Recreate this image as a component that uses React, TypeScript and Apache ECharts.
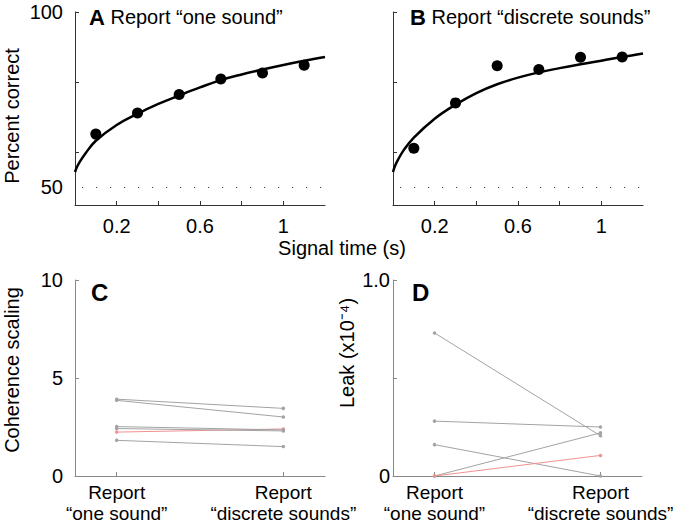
import React, { useEffect, useRef } from 'react';
import * as echarts from 'echarts';

const FONT = '"Liberation Sans", Arial, Helvetica, sans-serif';

// Panels A & B: percent correct vs signal time
const signalTimes = [0.1, 0.3, 0.5, 0.7, 0.9, 1.1];
const pctOneSound = [65.2, 71.2, 76.5, 80.9, 82.6, 84.8];
const pctDiscrete = [61.2, 74.1, 84.7, 83.6, 87.1, 87.2];

// fitted curves
const fitTimes = [0, 0.01, 0.025, 0.05, 0.1, 0.2, 0.3, 0.4, 0.5, 0.6, 0.7, 0.8, 0.9, 1.0, 1.1, 1.2];
const fitOneSound = [54.4, 55.9, 57.5, 59.7, 63.3, 67.8, 71.0, 73.8, 76.2, 78.5, 80.6, 82.2, 83.6, 84.9, 86.1, 87.2];
const fitDiscrete = [54.4, 56.2, 58.0, 60.5, 64.2, 69.6, 73.6, 76.9, 79.4, 81.3, 82.8, 84.0, 85.1, 86.1, 87.2, 88.2];
const chanceLevel = 50;

const timeTickLabels = [0.2, 0.6, 1];
const timeTicks = [0.2, 0.4, 0.6, 0.8, 1.0];
const pctTickLabels = [50, 100];
const pctTicks = [60, 80, 100];

// Panels C & D: two conditions
const conditionLine1 = ['Report', 'Report'];
const conditionLine2 = ['“one sound”', '“discrete sounds”'];
const conditionPos = [1, 2];

// Coherence scaling per subject [one sound, discrete sounds]
const cohS1 = [3.92, 3.45];
const cohS2 = [3.86, 3.01];
const cohS3 = [2.52, 2.35];
const cohS4 = [2.42, 2.3];
const cohS5 = [1.82, 1.5];
const cohMean = [2.24, 2.4];

// Leak (x10^-4) per subject
const leakS1 = [0.73, 0.205];
const leakS2 = [0.28, 0.25];
const leakS3 = [0.16, 0];
const leakS4 = [0, 0.22];
const leakMean = [0, 0.105];

const GRAY = '#a3a3a3';
const RED = '#f28f8f';
const FS = 20;

function pairSeries(values: number[], color: string, xi: number, z = 2) {
  return {
    type: 'line',
    xAxisIndex: xi,
    yAxisIndex: xi,
    data: conditionPos.map((p, i) => [p, values[i]]),
    symbol: 'circle',
    symbolSize: 3.5,
    itemStyle: { color },
    lineStyle: { color, width: 1 },
    z,
    silent: true,
  };
}

function timeXAxis(gridIndex: number) {
  return {
    type: 'value',
    gridIndex,
    min: 0,
    max: 1.2,
    axisLine: { lineStyle: { color: '#333', width: 1 } },
    axisTick: { inside: true, length: 4, customValues: timeTicks, lineStyle: { color: '#333' } },
    axisLabel: {
      customValues: timeTickLabels,
      formatter: (v: number) => String(Math.round(v * 10) / 10),
      color: '#000',
      fontSize: FS,
      fontFamily: FONT,
      margin: 11,
    },
    splitLine: { show: false },
  };
}

function pctYAxis(gridIndex: number, showLabels: boolean) {
  return {
    type: 'value',
    gridIndex,
    min: 45,
    max: 100,
    axisLine: { show: true, lineStyle: { color: '#333', width: 1 } },
    axisTick: { show: true, inside: true, length: 4, customValues: pctTicks, lineStyle: { color: '#333' } },
    axisLabel: {
      show: showLabels,
      customValues: pctTickLabels,
      color: '#000',
      fontSize: FS,
      fontFamily: FONT,
      margin: 12,
    },
    splitLine: { show: false },
  };
}

function condXAxis(gridIndex: number) {
  return {
    type: 'value',
    gridIndex,
    min: 0.75,
    max: 2.25,
    axisLine: { lineStyle: { color: '#888', width: 1 } },
    axisTick: { inside: true, length: 4, customValues: conditionPos, lineStyle: { color: '#888' } },
    axisLabel: {
      customValues: conditionPos,
      formatter: (v: number) => {
        const i = Math.round(v) - 1;
        return conditionLine1[i] + '\n' + conditionLine2[i];
      },
      color: '#000',
      fontSize: 19,
      lineHeight: 21,
      fontFamily: FONT,
      margin: 6,
    },
    splitLine: { show: false },
  };
}

export default function App() {
  const ref = useRef<HTMLDivElement>(null);
  useEffect(() => {
    document.body.style.margin = '0';
    const chart = echarts.init(ref.current!, null, { renderer: 'svg' });
    const scatterA = signalTimes.map((t, i) => [t, pctOneSound[i]]);
    const scatterB = signalTimes.map((t, i) => [t, pctDiscrete[i]]);
    const fitA = fitTimes.map((t, i) => [t, fitOneSound[i]]);
    const fitB = fitTimes.map((t, i) => [t, fitDiscrete[i]]);
    const chanceMark = {
      silent: true,
      symbol: 'none',
      label: { show: false },
      lineStyle: { color: '#444', width: 1.2, type: [1.2, 12.8], dashOffset: -7 },
      data: [{ yAxis: chanceLevel }],
    };
    const titleStyle = {
      color: '#000',
      fontSize: 20,
      fontWeight: 'normal',
      fontFamily: FONT,
      rich: { b: { fontWeight: 'bold', fontSize: 22, fontFamily: FONT, color: '#000' } },
    };
    const option: any = {
      animation: false,
      backgroundColor: '#fff',
      title: [
        { text: '{b|A} Report “one sound”', left: 84, top: 1, textStyle: titleStyle },
        { text: '{b|B} Report “discrete sounds”', left: 405, top: 1, textStyle: titleStyle },
        { text: 'C', left: 86, top: 275, textStyle: { color: '#000', fontSize: 24, fontWeight: 'bold', fontFamily: FONT } },
        { text: 'D', left: 407, top: 275, textStyle: { color: '#000', fontSize: 24, fontWeight: 'bold', fontFamily: FONT } },
      ],
      grid: [
        { left: 75, top: 12, width: 250, height: 193 },
        { left: 393, top: 12, width: 250, height: 193 },
        { left: 75, top: 280, width: 250, height: 196 },
        { left: 393, top: 280, width: 249, height: 196 },
      ],
      xAxis: [timeXAxis(0), timeXAxis(1), condXAxis(2), condXAxis(3)],
      yAxis: [
        pctYAxis(0, true),
        pctYAxis(1, false),
        {
          type: 'value',
          gridIndex: 2,
          min: 0,
          max: 10,
          interval: 5,
          axisLine: { show: true, lineStyle: { color: '#888' } },
          axisTick: { show: true, inside: true, length: 4, lineStyle: { color: '#888' } },
          axisLabel: { color: '#000', fontSize: FS, fontFamily: FONT, margin: 12 },
          splitLine: { show: false },
        },
        {
          type: 'value',
          gridIndex: 3,
          min: 0,
          max: 1,
          interval: 0.5,
          axisLine: { show: true, lineStyle: { color: '#888' } },
          axisTick: { show: true, inside: true, length: 4, lineStyle: { color: '#888' } },
          axisLabel: {
            customValues: [0, 1],
            formatter: (v: number) => (v === 1 ? '1.0' : '0'),
            color: '#000',
            fontSize: FS,
            fontFamily: FONT,
            margin: 3,
          },
          splitLine: { show: false },
        },
      ],
      graphic: [
        {
          type: 'text',
          x: 12,
          y: 116,
          rotation: Math.PI / 2,
          style: { text: 'Percent correct', fontSize: FS, fontFamily: FONT, fill: '#000', align: 'center', verticalAlign: 'middle' },
        },
        {
          type: 'text',
          x: 342,
          y: 248,
          style: { text: 'Signal time (s)', fontSize: FS, fontFamily: FONT, fill: '#000', align: 'center', verticalAlign: 'middle' },
        },
        {
          type: 'text',
          x: 12,
          y: 370,
          rotation: Math.PI / 2,
          style: { text: 'Coherence scaling', fontSize: FS, fontFamily: FONT, fill: '#000', align: 'center', verticalAlign: 'middle' },
        },
        {
          type: 'text',
          x: 347,
          y: 353,
          rotation: Math.PI / 2,
          style: { text: 'Leak (x10⁻⁴)', fontSize: FS, fontFamily: FONT, fill: '#000', align: 'center', verticalAlign: 'middle' },
        },
      ],
      series: [
        {
          type: 'line',
          xAxisIndex: 0,
          yAxisIndex: 0,
          data: fitA,
          showSymbol: false,
          smooth: 0.4,
          lineStyle: { color: '#000', width: 2.5 },
          silent: true,
        },
        {
          type: 'scatter',
          xAxisIndex: 0,
          yAxisIndex: 0,
          data: scatterA,
          symbolSize: 11,
          itemStyle: { color: '#000', opacity: 1 },
          markLine: chanceMark,
          silent: true,
        },
        {
          type: 'line',
          xAxisIndex: 1,
          yAxisIndex: 1,
          data: fitB,
          showSymbol: false,
          smooth: 0.4,
          lineStyle: { color: '#000', width: 2.5 },
          silent: true,
        },
        {
          type: 'scatter',
          xAxisIndex: 1,
          yAxisIndex: 1,
          data: scatterB,
          symbolSize: 11,
          itemStyle: { color: '#000', opacity: 1 },
          markLine: chanceMark,
          silent: true,
        },
        pairSeries(cohMean, RED, 2, 1),
        pairSeries(cohS1, GRAY, 2),
        pairSeries(cohS2, GRAY, 2),
        pairSeries(cohS3, GRAY, 2),
        pairSeries(cohS4, GRAY, 2),
        pairSeries(cohS5, GRAY, 2),
        pairSeries(leakS1, GRAY, 3),
        pairSeries(leakS2, GRAY, 3),
        pairSeries(leakS3, GRAY, 3),
        pairSeries(leakS4, GRAY, 3),
        pairSeries(leakMean, RED, 3, 3),
      ],
    };
    chart.setOption(option);
    return () => chart.dispose();
  }, []);
  return <div ref={ref} style={{ width: 682, height: 526 }} />;
}
